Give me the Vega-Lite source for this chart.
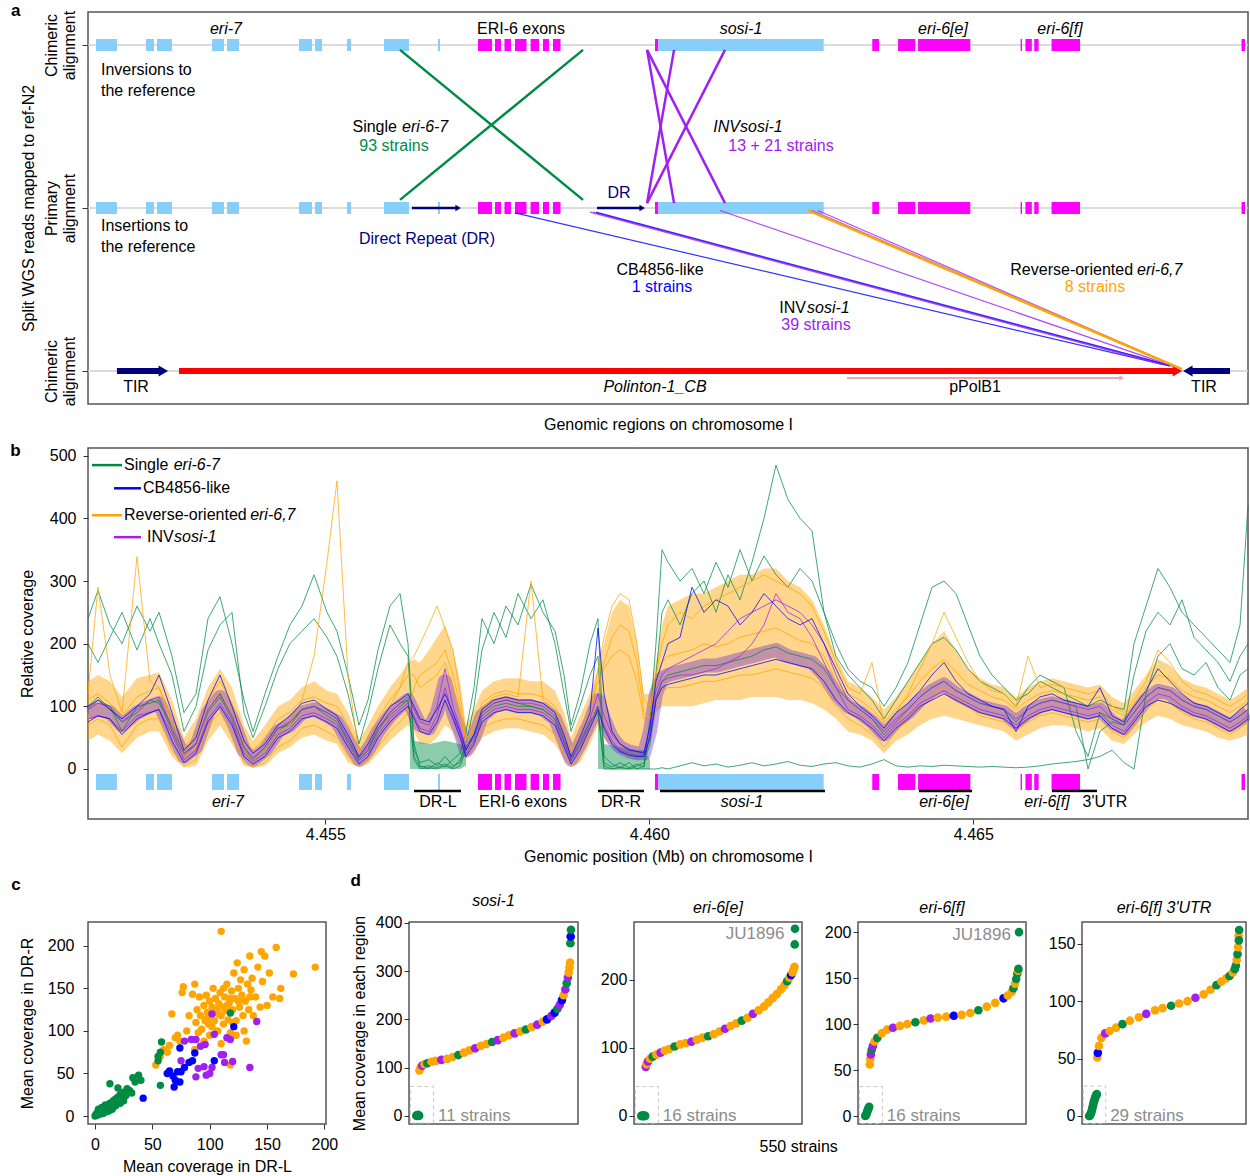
{
"$schema":"https://vega.github.io/schema/vega-lite/v6.json",
"background":"white",
"padding":{"left":9,"top":1,"right":0,"bottom":0},
"spacing":7,
"config":{"font":"Liberation Sans","view":{"stroke":"#555555","strokeWidth":1.5},
"axis":{"labelFontSize":16,"titleFontSize":16,"titleFontWeight":"normal","labelColor":"#000","titleColor":"#000","tickColor":"#333","domain":false,"grid":false,"tickSize":5,"labelFlush":false},
"title":{"fontSize":16,"fontWeight":"normal","color":"#000"}},
"datasets":{
"genes":[{"s":4451.461,"e":4451.785,"c":"e7"},{"s":4452.233,"e":4452.356,"c":"e7"},{"s":4452.403,"e":4452.634,"c":"e7"},{"s":4453.251,"e":4453.437,"c":"e7"},{"s":4453.483,"e":4453.668,"c":"e7"},{"s":4454.594,"e":4454.795,"c":"e7"},{"s":4454.841,"e":4454.949,"c":"e7"},{"s":4455.335,"e":4455.397,"c":"e7"},{"s":4455.906,"e":4456.292,"c":"e7"},{"s":4456.739,"e":4456.77,"c":"e7"},{"s":4460.134,"e":4462.691,"c":"e7"},
{"s":4457.356,"e":4457.572,"c":"e6"},{"s":4457.619,"e":4457.711,"c":"e6"},{"s":4457.765,"e":4457.866,"c":"e6"},{"s":4457.927,"e":4458.105,"c":"e6"},{"s":4458.168,"e":4458.298,"c":"e6"},{"s":4458.359,"e":4458.452,"c":"e6"},{"s":4458.514,"e":4458.63,"c":"e6"},{"s":4460.088,"e":4460.134,"c":"e6"},{"s":4463.441,"e":4463.546,"c":"e6"},{"s":4463.838,"e":4464.105,"c":"e6"},{"s":4464.147,"e":4464.954,"c":"e6"},{"s":4465.73,"e":4465.751,"c":"e6"},{"s":4465.804,"e":4465.903,"c":"e6"},{"s":4465.94,"e":4466.008,"c":"e6"},{"s":4466.207,"e":4466.647,"c":"e6"},{"s":4469.139,"e":4469.193,"c":"e6"}],
"series":[{"key":"ga","grp":"g"},{"key":"gb","grp":"g"},{"key":"gc","grp":"g"},{"key":"gd","grp":"g"},{"key":"oa","grp":"o"},{"key":"ob","grp":"o"},{"key":"oc","grp":"o"},{"key":"pa","grp":"p"},{"key":"pb","grp":"p"},{"key":"qa","grp":"b"},{"key":"qb","grp":"b"}],
"gband":[{"x":4456.307,"lo":0,"hi":90,"s":"L"},{"x":4456.369,"lo":0,"hi":45,"s":"L"},{"x":4456.6,"lo":0,"hi":40,"s":"L"},{"x":4456.847,"lo":0,"hi":45,"s":"L"},{"x":4457.079,"lo":0,"hi":40,"s":"L"},{"x":4457.171,"lo":5,"hi":35,"s":"L"},
{"x":4459.208,"lo":0,"hi":90,"s":"R"},{"x":4459.301,"lo":0,"hi":40,"s":"R"},{"x":4459.548,"lo":0,"hi":35,"s":"R"},{"x":4459.81,"lo":0,"hi":30,"s":"R"},{"x":4459.918,"lo":0,"hi":30,"s":"R"},{"x":4460.011,"lo":0,"hi":15,"s":"R"}],
"cov":[
{"x":4451.338,"M":90,"lo":45,"hi":140,"ga":95,"gb":240,"gc":200,"gd":100,"oa":70,"ob":120,"oc":110,"pa":95,"pb":80,"qa":100,"qb":75},
{"x":4451.492,"M":95,"lo":55,"hi":150,"ga":110,"gb":285,"gc":170,"gd":115,"oa":80,"ob":290,"oc":120,"pa":105,"pb":85,"qa":110,"qb":85},
{"x":4451.677,"M":90,"lo":45,"hi":140,"ga":100,"gb":230,"gc":210,"gd":95,"oa":70,"ob":150,"oc":105,"pa":100,"pb":80,"qa":95,"qb":80},
{"x":4451.863,"M":70,"lo":25,"hi":115,"ga":60,"gb":200,"gc":250,"gd":75,"oa":35,"ob":90,"oc":85,"pa":75,"pb":60,"qa":80,"qb":55},
{"x":4452.094,"M":90,"lo":50,"hi":145,"ga":100,"gb":260,"gc":190,"gd":90,"oa":70,"ob":339,"oc":115,"pa":95,"pb":85,"qa":100,"qb":80},
{"x":4452.295,"M":100,"lo":60,"hi":150,"ga":105,"gb":220,"gc":240,"gd":110,"oa":80,"ob":140,"oc":125,"pa":110,"pb":90,"qa":120,"qb":90},
{"x":4452.434,"M":105,"lo":60,"hi":155,"ga":110,"gb":250,"gc":200,"gd":105,"oa":80,"ob":130,"oc":130,"pa":115,"pb":95,"qa":150,"qb":95},
{"x":4452.634,"M":60,"lo":20,"hi":110,"ga":60,"gb":180,"gc":150,"gd":70,"oa":30,"ob":70,"oc":80,"pa":65,"pb":55,"qa":90,"qb":45},
{"x":4452.819,"M":20,"lo":2,"hi":50,"ga":20,"gb":90,"gc":60,"gd":25,"oa":5,"ob":20,"oc":35,"pa":25,"pb":15,"qa":30,"qb":10},
{"x":4453.005,"M":35,"lo":5,"hi":80,"ga":40,"gb":120,"gc":100,"gd":40,"oa":15,"ob":35,"oc":55,"pa":40,"pb":30,"qa":50,"qb":25},
{"x":4453.19,"M":90,"lo":45,"hi":130,"ga":95,"gb":240,"gc":190,"gd":90,"oa":70,"ob":95,"oc":110,"pa":95,"pb":80,"qa":110,"qb":75},
{"x":4453.375,"M":115,"lo":70,"hi":160,"ga":120,"gb":275,"gc":230,"gd":115,"oa":90,"ob":125,"oc":140,"pa":120,"pb":105,"qa":150,"qb":100},
{"x":4453.56,"M":80,"lo":40,"hi":130,"ga":85,"gb":200,"gc":250,"gd":80,"oa":55,"ob":85,"oc":105,"pa":85,"pb":75,"qa":100,"qb":70},
{"x":4453.745,"M":30,"lo":5,"hi":70,"ga":35,"gb":110,"gc":90,"gd":30,"oa":10,"ob":30,"oc":50,"pa":35,"pb":25,"qa":45,"qb":20},
{"x":4453.884,"M":15,"lo":2,"hi":45,"ga":15,"gb":60,"gc":50,"gd":15,"oa":3,"ob":15,"oc":30,"pa":18,"pb":12,"qa":25,"qb":8},
{"x":4454.069,"M":30,"lo":5,"hi":70,"ga":30,"gb":120,"gc":100,"gd":35,"oa":10,"ob":30,"oc":50,"pa":35,"pb":25,"qa":40,"qb":20},
{"x":4454.27,"M":60,"lo":25,"hi":100,"ga":60,"gb":180,"gc":160,"gd":65,"oa":35,"ob":60,"oc":80,"pa":65,"pb":55,"qa":70,"qb":50},
{"x":4454.455,"M":70,"lo":35,"hi":110,"ga":75,"gb":230,"gc":200,"gd":70,"oa":45,"ob":70,"oc":90,"pa":75,"pb":65,"qa":85,"qb":60},
{"x":4454.64,"M":90,"lo":50,"hi":130,"ga":95,"gb":260,"gc":220,"gd":95,"oa":65,"ob":110,"oc":110,"pa":95,"pb":85,"qa":105,"qb":80},
{"x":4454.826,"M":95,"lo":55,"hi":140,"ga":100,"gb":310,"gc":240,"gd":100,"oa":70,"ob":180,"oc":115,"pa":100,"pb":90,"qa":110,"qb":85},
{"x":4455.026,"M":85,"lo":45,"hi":125,"ga":90,"gb":250,"gc":210,"gd":85,"oa":60,"ob":330,"oc":105,"pa":90,"pb":80,"qa":95,"qb":75},
{"x":4455.18,"M":75,"lo":40,"hi":120,"ga":80,"gb":220,"gc":180,"gd":75,"oa":50,"ob":460,"oc":100,"pa":80,"pb":70,"qa":85,"qb":65},
{"x":4455.35,"M":45,"lo":10,"hi":90,"ga":45,"gb":150,"gc":120,"gd":45,"oa":20,"ob":150,"oc":70,"pa":50,"pb":40,"qa":55,"qb":35},
{"x":4455.52,"M":15,"lo":3,"hi":45,"ga":15,"gb":70,"gc":40,"gd":15,"oa":4,"ob":25,"oc":30,"pa":18,"pb":12,"qa":20,"qb":8},
{"x":4455.659,"M":30,"lo":8,"hi":70,"ga":30,"gb":110,"gc":90,"gd":30,"oa":12,"ob":40,"oc":50,"pa":35,"pb":25,"qa":40,"qb":20},
{"x":4455.813,"M":60,"lo":25,"hi":100,"ga":60,"gb":190,"gc":160,"gd":65,"oa":35,"ob":70,"oc":80,"pa":65,"pb":55,"qa":70,"qb":50},
{"x":4455.998,"M":85,"lo":45,"hi":130,"ga":90,"gb":260,"gc":230,"gd":85,"oa":60,"ob":100,"oc":110,"pa":90,"pb":80,"qa":100,"qb":75},
{"x":4456.153,"M":100,"lo":60,"hi":150,"ga":105,"gb":280,"gc":200,"gd":100,"oa":75,"ob":130,"oc":130,"pa":105,"pb":95,"qa":110,"qb":90},
{"x":4456.276,"M":110,"lo":70,"hi":170,"ga":110,"gb":200,"gc":180,"gd":110,"oa":90,"ob":170,"oc":150,"pa":115,"pb":105,"qa":120,"qb":100},
{"x":4456.369,"M":90,"lo":60,"hi":175,"ga":20,"gb":40,"gc":30,"gd":15,"oa":130,"ob":180,"oc":150,"pa":95,"pb":85,"qa":100,"qb":80},
{"x":4456.461,"M":70,"lo":40,"hi":170,"ga":3,"gb":5,"gc":10,"gd":0,"oa":150,"ob":200,"oc":130,"pa":75,"pb":65,"qa":80,"qb":60},
{"x":4456.6,"M":65,"lo":40,"hi":190,"ga":5,"gb":0,"gc":15,"gd":2,"oa":160,"ob":230,"oc":140,"pa":70,"pb":60,"qa":75,"qb":55},
{"x":4456.724,"M":90,"lo":50,"hi":210,"ga":2,"gb":10,"gc":5,"gd":0,"oa":170,"ob":260,"oc":150,"pa":100,"pb":85,"qa":95,"qb":75},
{"x":4456.847,"M":140,"lo":70,"hi":230,"ga":8,"gb":3,"gc":20,"gd":5,"oa":190,"ob":225,"oc":170,"pa":160,"pb":130,"qa":120,"qb":110},
{"x":4456.971,"M":90,"lo":60,"hi":190,"ga":2,"gb":15,"gc":5,"gd":0,"oa":150,"ob":190,"oc":130,"pa":100,"pb":85,"qa":90,"qb":80},
{"x":4457.079,"M":60,"lo":35,"hi":140,"ga":15,"gb":25,"gc":10,"gd":5,"oa":100,"ob":120,"oc":90,"pa":65,"pb":55,"qa":60,"qb":50},
{"x":4457.171,"M":30,"lo":15,"hi":70,"ga":35,"gb":60,"gc":40,"gd":30,"oa":40,"ob":50,"oc":45,"pa":35,"pb":25,"qa":30,"qb":20},
{"x":4457.295,"M":50,"lo":25,"hi":95,"ga":55,"gb":130,"gc":100,"gd":50,"oa":40,"ob":60,"oc":70,"pa":55,"pb":45,"qa":55,"qb":40},
{"x":4457.418,"M":85,"lo":50,"hi":125,"ga":90,"gb":240,"gc":190,"gd":85,"oa":65,"ob":95,"oc":105,"pa":90,"pb":80,"qa":95,"qb":75},
{"x":4457.603,"M":100,"lo":60,"hi":140,"ga":105,"gb":200,"gc":250,"gd":100,"oa":75,"ob":115,"oc":120,"pa":105,"pb":95,"qa":110,"qb":90},
{"x":4457.788,"M":105,"lo":65,"hi":145,"ga":110,"gb":260,"gc":210,"gd":105,"oa":80,"ob":120,"oc":125,"pa":110,"pb":100,"qa":115,"qb":95},
{"x":4457.974,"M":100,"lo":65,"hi":145,"ga":105,"gb":230,"gc":280,"gd":100,"oa":80,"ob":115,"oc":120,"pa":105,"pb":95,"qa":110,"qb":90},
{"x":4458.174,"M":100,"lo":60,"hi":140,"ga":100,"gb":295,"gc":240,"gd":100,"oa":75,"ob":300,"oc":120,"pa":105,"pb":95,"qa":110,"qb":90},
{"x":4458.359,"M":95,"lo":55,"hi":140,"ga":95,"gb":250,"gc":270,"gd":95,"oa":70,"ob":110,"oc":115,"pa":100,"pb":90,"qa":105,"qb":85},
{"x":4458.545,"M":80,"lo":40,"hi":125,"ga":80,"gb":220,"gc":200,"gd":80,"oa":55,"ob":95,"oc":100,"pa":85,"pb":75,"qa":90,"qb":70},
{"x":4458.684,"M":45,"lo":15,"hi":90,"ga":45,"gb":150,"gc":120,"gd":45,"oa":25,"ob":55,"oc":65,"pa":50,"pb":40,"qa":55,"qb":35},
{"x":4458.792,"M":15,"lo":3,"hi":50,"ga":15,"gb":70,"gc":60,"gd":15,"oa":4,"ob":20,"oc":30,"pa":18,"pb":12,"qa":20,"qb":8},
{"x":4458.93,"M":40,"lo":10,"hi":85,"ga":40,"gb":120,"gc":100,"gd":40,"oa":20,"ob":50,"oc":60,"pa":45,"pb":35,"qa":50,"qb":30},
{"x":4459.085,"M":75,"lo":40,"hi":120,"ga":75,"gb":200,"gc":150,"gd":75,"oa":60,"ob":90,"oc":95,"pa":80,"pb":70,"qa":90,"qb":65},
{"x":4459.208,"M":110,"lo":70,"hi":160,"ga":90,"gb":240,"gc":180,"gd":100,"oa":120,"ob":160,"oc":140,"pa":120,"pb":100,"qa":225,"qb":95},
{"x":4459.301,"M":80,"lo":50,"hi":200,"ga":5,"gb":20,"gc":10,"gd":0,"oa":170,"ob":210,"oc":160,"pa":85,"pb":70,"qa":120,"qb":65},
{"x":4459.424,"M":50,"lo":35,"hi":250,"ga":0,"gb":8,"gc":3,"gd":0,"oa":210,"ob":260,"oc":180,"pa":55,"pb":45,"qa":60,"qb":40},
{"x":4459.548,"M":35,"lo":25,"hi":270,"ga":3,"gb":2,"gc":10,"gd":0,"oa":230,"ob":280,"oc":190,"pa":40,"pb":30,"qa":40,"qb":28},
{"x":4459.687,"M":28,"lo":20,"hi":260,"ga":0,"gb":10,"gc":2,"gd":0,"oa":220,"ob":270,"oc":180,"pa":32,"pb":25,"qa":30,"qb":22},
{"x":4459.81,"M":25,"lo":15,"hi":200,"ga":5,"gb":0,"gc":8,"gd":0,"oa":170,"ob":200,"oc":140,"pa":28,"pb":22,"qa":28,"qb":20},
{"x":4459.918,"M":25,"lo":15,"hi":120,"ga":10,"gb":5,"gc":3,"gd":0,"oa":90,"ob":110,"oc":80,"pa":28,"pb":22,"qa":25,"qb":20},
{"x":4460.011,"M":60,"lo":40,"hi":120,"ga":40,"gb":80,"gc":60,"gd":0,"oa":80,"ob":100,"oc":90,"pa":65,"pb":55,"qa":70,"qb":50},
{"x":4460.103,"M":120,"lo":90,"hi":170,"ga":110,"gb":200,"gc":150,"gd":0,"oa":110,"ob":150,"oc":140,"pa":125,"pb":115,"qa":140,"qb":110},
{"x":4460.196,"M":145,"lo":100,"hi":230,"ga":140,"gb":350,"gc":250,"gd":2,"oa":125,"ob":200,"oc":170,"pa":150,"pb":140,"qa":170,"qb":130},
{"x":4460.288,"M":150,"lo":100,"hi":260,"ga":150,"gb":330,"gc":270,"gd":0,"oa":130,"ob":230,"oc":180,"pa":160,"pb":145,"qa":200,"qb":135},
{"x":4460.474,"M":155,"lo":100,"hi":270,"ga":155,"gb":300,"gc":230,"gd":5,"oa":130,"ob":250,"oc":185,"pa":170,"pb":150,"qa":210,"qb":140},
{"x":4460.659,"M":160,"lo":100,"hi":280,"ga":160,"gb":320,"gc":280,"gd":10,"oa":135,"ob":240,"oc":190,"pa":180,"pb":150,"qa":290,"qb":145},
{"x":4460.844,"M":165,"lo":105,"hi":280,"ga":165,"gb":280,"gc":300,"gd":5,"oa":140,"ob":260,"oc":200,"pa":190,"pb":155,"qa":250,"qb":150},
{"x":4461.029,"M":165,"lo":110,"hi":290,"ga":165,"gb":330,"gc":250,"gd":8,"oa":140,"ob":270,"oc":195,"pa":200,"pb":160,"qa":270,"qb":150},
{"x":4461.214,"M":170,"lo":110,"hi":300,"ga":170,"gb":290,"gc":310,"gd":3,"oa":145,"ob":280,"oc":200,"pa":220,"pb":170,"qa":260,"qb":155},
{"x":4461.4,"M":175,"lo":110,"hi":310,"ga":175,"gb":350,"gc":270,"gd":6,"oa":150,"ob":290,"oc":210,"pa":240,"pb":180,"qa":230,"qb":160},
{"x":4461.585,"M":180,"lo":115,"hi":310,"ga":180,"gb":300,"gc":330,"gd":10,"oa":150,"ob":300,"oc":215,"pa":250,"pb":200,"qa":250,"qb":165},
{"x":4461.77,"M":185,"lo":115,"hi":320,"ga":190,"gb":340,"gc":400,"gd":5,"oa":155,"ob":310,"oc":220,"pa":260,"pb":230,"qa":280,"qb":170},
{"x":4461.955,"M":190,"lo":115,"hi":320,"ga":195,"gb":310,"gc":485,"gd":8,"oa":160,"ob":300,"oc":225,"pa":270,"pb":280,"qa":260,"qb":175},
{"x":4462.14,"M":180,"lo":110,"hi":300,"ga":185,"gb":290,"gc":430,"gd":12,"oa":155,"ob":290,"oc":215,"pa":260,"pb":250,"qa":240,"qb":170},
{"x":4462.326,"M":175,"lo":110,"hi":290,"ga":180,"gb":320,"gc":400,"gd":6,"oa":150,"ob":280,"oc":205,"pa":250,"pb":240,"qa":230,"qb":165},
{"x":4462.511,"M":170,"lo":105,"hi":270,"ga":175,"gb":300,"gc":380,"gd":4,"oa":145,"ob":260,"oc":200,"pa":230,"pb":210,"qa":240,"qb":160},
{"x":4462.696,"M":150,"lo":95,"hi":230,"ga":160,"gb":250,"gc":250,"gd":8,"oa":130,"ob":220,"oc":180,"pa":200,"pb":170,"qa":200,"qb":140},
{"x":4462.881,"M":120,"lo":80,"hi":180,"ga":130,"gb":200,"gc":180,"gd":10,"oa":100,"ob":170,"oc":140,"pa":150,"pb":130,"qa":160,"qb":110},
{"x":4463.066,"M":100,"lo":60,"hi":140,"ga":110,"gb":160,"gc":150,"gd":5,"oa":80,"ob":130,"oc":120,"pa":110,"pb":95,"qa":120,"qb":90},
{"x":4463.251,"M":90,"lo":55,"hi":130,"ga":95,"gb":140,"gc":130,"gd":3,"oa":70,"ob":120,"oc":110,"pa":95,"pb":85,"qa":100,"qb":80},
{"x":4463.437,"M":75,"lo":45,"hi":115,"ga":80,"gb":130,"gc":110,"gd":8,"oa":55,"ob":170,"oc":95,"pa":80,"pb":70,"qa":85,"qb":65},
{"x":4463.622,"M":55,"lo":25,"hi":95,"ga":55,"gb":100,"gc":80,"gd":15,"oa":35,"ob":70,"oc":75,"pa":60,"pb":50,"qa":65,"qb":45},
{"x":4463.807,"M":75,"lo":45,"hi":115,"ga":75,"gb":130,"gc":110,"gd":5,"oa":60,"ob":90,"oc":95,"pa":80,"pb":70,"qa":90,"qb":65},
{"x":4463.992,"M":90,"lo":55,"hi":140,"ga":95,"gb":170,"gc":140,"gd":3,"oa":80,"ob":120,"oc":115,"pa":95,"pb":85,"qa":105,"qb":80},
{"x":4464.177,"M":110,"lo":70,"hi":170,"ga":115,"gb":230,"gc":170,"gd":5,"oa":100,"ob":160,"oc":140,"pa":115,"pb":105,"qa":125,"qb":100},
{"x":4464.363,"M":125,"lo":80,"hi":200,"ga":130,"gb":290,"gc":200,"gd":4,"oa":120,"ob":200,"oc":160,"pa":130,"pb":115,"qa":150,"qb":110},
{"x":4464.548,"M":135,"lo":85,"hi":220,"ga":140,"gb":300,"gc":210,"gd":6,"oa":130,"ob":250,"oc":175,"pa":140,"pb":125,"qa":170,"qb":120},
{"x":4464.733,"M":120,"lo":80,"hi":190,"ga":125,"gb":280,"gc":190,"gd":5,"oa":115,"ob":210,"oc":155,"pa":125,"pb":115,"qa":140,"qb":110},
{"x":4464.918,"M":110,"lo":75,"hi":160,"ga":115,"gb":230,"gc":160,"gd":4,"oa":100,"ob":170,"oc":135,"pa":115,"pb":105,"qa":120,"qb":100},
{"x":4465.103,"M":100,"lo":70,"hi":145,"ga":105,"gb":180,"gc":140,"gd":3,"oa":85,"ob":140,"oc":125,"pa":105,"pb":95,"qa":110,"qb":90},
{"x":4465.288,"M":95,"lo":65,"hi":135,"ga":100,"gb":150,"gc":130,"gd":4,"oa":80,"ob":125,"oc":115,"pa":100,"pb":90,"qa":100,"qb":85},
{"x":4465.474,"M":90,"lo":60,"hi":130,"ga":95,"gb":130,"gc":120,"gd":3,"oa":75,"ob":120,"oc":110,"pa":95,"pb":85,"qa":95,"qb":80},
{"x":4465.659,"M":75,"lo":45,"hi":115,"ga":75,"gb":110,"gc":100,"gd":2,"oa":60,"ob":100,"oc":95,"pa":80,"pb":70,"qa":60,"qb":65},
{"x":4465.844,"M":90,"lo":55,"hi":130,"ga":95,"gb":120,"gc":130,"gd":3,"oa":75,"ob":180,"oc":110,"pa":95,"pb":85,"qa":100,"qb":80},
{"x":4466.029,"M":100,"lo":65,"hi":140,"ga":105,"gb":140,"gc":150,"gd":5,"oa":85,"ob":130,"oc":120,"pa":105,"pb":95,"qa":115,"qb":90},
{"x":4466.214,"M":105,"lo":70,"hi":145,"ga":110,"gb":130,"gc":140,"gd":8,"oa":90,"ob":135,"oc":125,"pa":110,"pb":100,"qa":120,"qb":95},
{"x":4466.4,"M":100,"lo":70,"hi":140,"ga":105,"gb":120,"gc":130,"gd":10,"oa":85,"ob":130,"oc":120,"pa":105,"pb":95,"qa":110,"qb":90},
{"x":4466.585,"M":95,"lo":65,"hi":135,"ga":100,"gb":110,"gc":60,"gd":12,"oa":80,"ob":125,"oc":115,"pa":100,"pb":90,"qa":105,"qb":85},
{"x":4466.77,"M":90,"lo":60,"hi":130,"ga":0,"gb":100,"gc":20,"gd":15,"oa":75,"ob":120,"oc":110,"pa":95,"pb":85,"qa":100,"qb":80},
{"x":4466.955,"M":95,"lo":65,"hi":135,"ga":60,"gb":110,"gc":90,"gd":20,"oa":80,"ob":125,"oc":115,"pa":100,"pb":90,"qa":130,"qb":85},
{"x":4467.14,"M":75,"lo":45,"hi":115,"ga":75,"gb":100,"gc":80,"gd":30,"oa":60,"ob":100,"oc":95,"pa":80,"pb":70,"qa":85,"qb":65},
{"x":4467.326,"M":65,"lo":40,"hi":105,"ga":70,"gb":95,"gc":70,"gd":10,"oa":50,"ob":90,"oc":85,"pa":70,"pb":60,"qa":75,"qb":55},
{"x":4467.48,"M":85,"lo":55,"hi":125,"ga":90,"gb":200,"gc":150,"gd":0,"oa":70,"ob":110,"oc":105,"pa":90,"pb":80,"qa":100,"qb":75},
{"x":4467.665,"M":110,"lo":75,"hi":150,"ga":115,"gb":260,"gc":220,"gd":120,"oa":95,"ob":140,"oc":130,"pa":115,"pb":105,"qa":125,"qb":100},
{"x":4467.85,"M":125,"lo":85,"hi":175,"ga":130,"gb":320,"gc":250,"gd":180,"oa":110,"ob":190,"oc":150,"pa":130,"pb":120,"qa":160,"qb":110},
{"x":4468.035,"M":120,"lo":80,"hi":165,"ga":125,"gb":290,"gc":230,"gd":200,"oa":105,"ob":170,"oc":145,"pa":125,"pb":115,"qa":140,"qb":105},
{"x":4468.221,"M":105,"lo":70,"hi":145,"ga":110,"gb":250,"gc":270,"gd":160,"oa":90,"ob":140,"oc":125,"pa":110,"pb":100,"qa":120,"qb":95},
{"x":4468.406,"M":95,"lo":65,"hi":135,"ga":100,"gb":230,"gc":210,"gd":150,"oa":80,"ob":125,"oc":115,"pa":100,"pb":90,"qa":105,"qb":85},
{"x":4468.591,"M":90,"lo":60,"hi":130,"ga":95,"gb":210,"gc":190,"gd":170,"oa":75,"ob":120,"oc":110,"pa":95,"pb":85,"qa":100,"qb":80},
{"x":4468.776,"M":80,"lo":50,"hi":120,"ga":85,"gb":190,"gc":170,"gd":130,"oa":65,"ob":110,"oc":100,"pa":85,"pb":75,"qa":90,"qb":70},
{"x":4468.961,"M":70,"lo":45,"hi":110,"ga":75,"gb":170,"gc":140,"gd":110,"oa":55,"ob":100,"oc":90,"pa":75,"pb":65,"qa":80,"qb":60},
{"x":4469.116,"M":80,"lo":50,"hi":120,"ga":85,"gb":230,"gc":180,"gd":150,"oa":65,"ob":110,"oc":100,"pa":85,"pb":75,"qa":95,"qb":70},
{"x":4469.239,"M":90,"lo":55,"hi":130,"ga":95,"gb":420,"gc":200,"gd":160,"oa":75,"ob":120,"oc":110,"pa":95,"pb":85,"qa":105,"qb":80}],
"scat":[
{"x":53,"y":60,"c":"o"},{"x":57,"y":70,"c":"o"},{"x":60,"y":78,"c":"o"},{"x":63,"y":75,"c":"o"},{"x":65,"y":83,"c":"o"},{"x":67,"y":120,"c":"o"},{"x":70,"y":92,"c":"o"},{"x":72,"y":95,"c":"o"},{"x":74,"y":88,"c":"o"},{"x":76,"y":145,"c":"o"},{"x":77,"y":152,"c":"o"},{"x":80,"y":100,"c":"o"},{"x":82,"y":118,"c":"o"},{"x":85,"y":143,"c":"o"},{"x":87,"y":155,"c":"o"},{"x":88,"y":110,"c":"o"},{"x":89,"y":125,"c":"o"},{"x":90,"y":98,"c":"o"},{"x":91,"y":140,"c":"o"},{"x":92,"y":118,"c":"o"},{"x":93,"y":102,"c":"o"},{"x":95,"y":130,"c":"o"},{"x":96,"y":112,"c":"o"},{"x":97,"y":142,"c":"o"},{"x":98,"y":122,"c":"o"},{"x":99,"y":108,"c":"o"},{"x":100,"y":135,"c":"o"},{"x":100,"y":95,"c":"o"},{"x":101,"y":118,"c":"o"},{"x":102,"y":128,"c":"o"},{"x":103,"y":150,"c":"o"},{"x":104,"y":112,"c":"o"},{"x":105,"y":138,"c":"o"},{"x":106,"y":122,"c":"o"},{"x":107,"y":100,"c":"o"},{"x":108,"y":132,"c":"o"},{"x":109,"y":145,"c":"o"},{"x":110,"y":118,"c":"o"},{"x":110,"y":217,"c":"o"},{"x":111,"y":128,"c":"o"},{"x":112,"y":108,"c":"o"},{"x":113,"y":140,"c":"o"},{"x":114,"y":124,"c":"o"},{"x":115,"y":155,"c":"o"},{"x":116,"y":113,"c":"o"},{"x":117,"y":133,"c":"o"},{"x":118,"y":98,"c":"o"},{"x":118,"y":60,"c":"o"},{"x":119,"y":147,"c":"o"},{"x":120,"y":125,"c":"o"},{"x":121,"y":168,"c":"o"},{"x":122,"y":138,"c":"o"},{"x":123,"y":112,"c":"o"},{"x":124,"y":180,"c":"o"},{"x":125,"y":150,"c":"o"},{"x":126,"y":128,"c":"o"},{"x":127,"y":160,"c":"o"},{"x":128,"y":142,"c":"o"},{"x":129,"y":118,"c":"o"},{"x":130,"y":172,"c":"o"},{"x":131,"y":135,"c":"o"},{"x":132,"y":88,"c":"o"},{"x":133,"y":155,"c":"o"},{"x":134,"y":125,"c":"o"},{"x":135,"y":188,"c":"o"},{"x":136,"y":148,"c":"o"},{"x":137,"y":162,"c":"o"},{"x":138,"y":118,"c":"o"},{"x":140,"y":140,"c":"o"},{"x":142,"y":175,"c":"o"},{"x":144,"y":128,"c":"o"},{"x":145,"y":193,"c":"o"},{"x":146,"y":158,"c":"o"},{"x":148,"y":188,"c":"o"},{"x":150,"y":130,"c":"o"},{"x":152,"y":168,"c":"o"},{"x":155,"y":140,"c":"o"},{"x":158,"y":198,"c":"o"},{"x":161,"y":138,"c":"o"},{"x":162,"y":150,"c":"o"},{"x":173,"y":167,"c":"o"},{"x":192,"y":175,"c":"o"},{"x":87,"y":78,"c":"o"},{"x":95,"y":88,"c":"o"},{"x":110,"y":85,"c":"o"},{"x":123,"y":95,"c":"o"},{"x":130,"y":100,"c":"o"},{"x":105,"y":125,"c":"o"},{"x":115,"y":130,"c":"o"},{"x":120,"y":110,"c":"o"},{"x":98,"y":115,"c":"o"},{"x":108,"y":120,"c":"o"},{"x":125,"y":135,"c":"o"},{"x":135,"y":140,"c":"o"},{"x":112,"y":150,"c":"o"},{"x":118,"y":138,"c":"o"},{"x":102,"y":105,"c":"o"},
{"x":75,"y":65,"c":"p"},{"x":78,"y":88,"c":"p"},{"x":88,"y":90,"c":"p"},{"x":90,"y":56,"c":"p"},{"x":88,"y":46,"c":"p"},{"x":95,"y":58,"c":"p"},{"x":97,"y":48,"c":"p"},{"x":100,"y":50,"c":"p"},{"x":102,"y":57,"c":"p"},{"x":104,"y":96,"c":"p"},{"x":110,"y":72,"c":"p"},{"x":112,"y":72,"c":"p"},{"x":115,"y":92,"c":"p"},{"x":113,"y":63,"c":"p"},{"x":118,"y":90,"c":"p"},{"x":120,"y":64,"c":"p"},{"x":135,"y":57,"c":"p"},{"x":141,"y":111,"c":"p"},{"x":96,"y":84,"c":"p"},{"x":102,"y":120,"c":"p"},{"x":84,"y":90,"c":"p"},{"x":92,"y":82,"c":"p"},
{"x":63,"y":50,"c":"b"},{"x":65,"y":53,"c":"b"},{"x":68,"y":47,"c":"b"},{"x":70,"y":42,"c":"b"},{"x":72,"y":52,"c":"b"},{"x":75,"y":52,"c":"b"},{"x":74,"y":40,"c":"b"},{"x":69,"y":34,"c":"b"},{"x":78,"y":57,"c":"b"},{"x":82,"y":63,"c":"b"},{"x":87,"y":74,"c":"b"},{"x":85,"y":65,"c":"b"},{"x":104,"y":65,"c":"b"},{"x":121,"y":105,"c":"b"},{"x":74,"y":80,"c":"b"},{"x":42,"y":21,"c":"b"},
{"x":0,"y":0,"c":"g"},{"x":1,"y":2,"c":"g"},{"x":2,"y":1,"c":"g"},{"x":3,"y":3,"c":"g"},{"x":2,"y":4,"c":"g"},{"x":4,"y":2,"c":"g"},{"x":5,"y":5,"c":"g"},{"x":6,"y":4,"c":"g"},{"x":4,"y":7,"c":"g"},{"x":7,"y":6,"c":"g"},{"x":8,"y":8,"c":"g"},{"x":9,"y":7,"c":"g"},{"x":10,"y":10,"c":"g"},{"x":11,"y":9,"c":"g"},{"x":12,"y":12,"c":"g"},{"x":13,"y":15,"c":"g"},{"x":14,"y":11,"c":"g"},{"x":15,"y":14,"c":"g"},{"x":16,"y":18,"c":"g"},{"x":17,"y":16,"c":"g"},{"x":18,"y":20,"c":"g"},{"x":19,"y":17,"c":"g"},{"x":20,"y":22,"c":"g"},{"x":21,"y":19,"c":"g"},{"x":22,"y":25,"c":"g"},{"x":24,"y":21,"c":"g"},{"x":25,"y":28,"c":"g"},{"x":27,"y":24,"c":"g"},{"x":30,"y":30,"c":"g"},{"x":32,"y":27,"c":"g"},{"x":33,"y":45,"c":"g"},{"x":35,"y":40,"c":"g"},{"x":38,"y":48,"c":"g"},{"x":40,"y":42,"c":"g"},{"x":13,"y":38,"c":"g"},{"x":20,"y":33,"c":"g"},{"x":55,"y":65,"c":"g"},{"x":58,"y":87,"c":"g"},{"x":57,"y":75,"c":"g"},{"x":55,"y":70,"c":"g"},{"x":57,"y":36,"c":"g"},{"x":118,"y":121,"c":"g"},{"x":7,"y":3,"c":"g"},{"x":10,"y":5,"c":"g"},{"x":3,"y":8,"c":"g"},{"x":15,"y":8,"c":"g"},{"x":18,"y":12,"c":"g"},{"x":25,"y":18,"c":"g"},{"x":28,"y":32,"c":"g"},{"x":6,"y":10,"c":"g"},{"x":9,"y":13,"c":"g"},{"x":12,"y":6,"c":"g"},{"x":16,"y":11,"c":"g"},{"x":22,"y":15,"c":"g"}],
"sorted":[
{"p":"s","r":1,"v":0,"c":"g"},{"p":"s","r":3,"v":1,"c":"g"},{"p":"s","r":5,"v":0,"c":"g"},{"p":"s","r":7,"v":2,"c":"g"},{"p":"s","r":9,"v":1,"c":"g"},{"p":"s","r":11,"v":0,"c":"g"},
{"p":"s","r":12,"v":94,"c":"o"},{"p":"s","r":16,"v":100,"c":"o"},{"p":"s","r":22,"v":104,"c":"p"},{"p":"s","r":30,"v":107,"c":"o"},{"p":"s","r":40,"v":109,"c":"g"},{"p":"s","r":55,"v":112,"c":"o"},{"p":"s","r":70,"v":114,"c":"o"},{"p":"s","r":90,"v":116,"c":"p"},{"p":"s","r":110,"v":118,"c":"o"},{"p":"s","r":130,"v":122,"c":"o"},{"p":"s","r":150,"v":126,"c":"g"},{"p":"s","r":170,"v":131,"c":"o"},{"p":"s","r":190,"v":136,"c":"o"},{"p":"s","r":210,"v":140,"c":"p"},{"p":"s","r":230,"v":145,"c":"o"},{"p":"s","r":250,"v":149,"c":"o"},{"p":"s","r":270,"v":153,"c":"g"},{"p":"s","r":290,"v":157,"c":"p"},{"p":"s","r":310,"v":162,"c":"o"},{"p":"s","r":330,"v":167,"c":"o"},{"p":"s","r":350,"v":171,"c":"p"},{"p":"s","r":370,"v":175,"c":"o"},{"p":"s","r":390,"v":179,"c":"g"},{"p":"s","r":410,"v":184,"c":"o"},{"p":"s","r":430,"v":189,"c":"p"},{"p":"s","r":450,"v":195,"c":"o"},{"p":"s","r":465,"v":200,"c":"b"},{"p":"s","r":480,"v":207,"c":"p"},{"p":"s","r":492,"v":214,"c":"b"},{"p":"s","r":502,"v":222,"c":"g"},{"p":"s","r":510,"v":230,"c":"p"},{"p":"s","r":518,"v":240,"c":"b"},{"p":"s","r":524,"v":250,"c":"o"},{"p":"s","r":530,"v":262,"c":"p"},{"p":"s","r":535,"v":275,"c":"g"},{"p":"s","r":539,"v":287,"c":"p"},{"p":"s","r":542,"v":297,"c":"o"},{"p":"s","r":545,"v":308,"c":"o"},{"p":"s","r":547,"v":318,"c":"o"},{"p":"s","r":548,"v":358,"c":"g"},{"p":"s","r":549,"v":372,"c":"b"},{"p":"s","r":550,"v":386,"c":"g"},
{"p":"e","r":1,"v":0,"c":"g"},{"p":"e","r":3,"v":0,"c":"g"},{"p":"e","r":5,"v":0,"c":"g"},{"p":"e","r":7,"v":0,"c":"g"},{"p":"e","r":9,"v":0,"c":"g"},{"p":"e","r":11,"v":0,"c":"g"},{"p":"e","r":13,"v":0,"c":"g"},{"p":"e","r":15,"v":0,"c":"g"},
{"p":"e","r":17,"v":72,"c":"p"},{"p":"e","r":20,"v":76,"c":"o"},{"p":"e","r":25,"v":80,"c":"p"},{"p":"e","r":32,"v":84,"c":"o"},{"p":"e","r":42,"v":87,"c":"g"},{"p":"e","r":55,"v":90,"c":"o"},{"p":"e","r":70,"v":93,"c":"p"},{"p":"e","r":85,"v":96,"c":"o"},{"p":"e","r":100,"v":98,"c":"o"},{"p":"e","r":120,"v":102,"c":"g"},{"p":"e","r":140,"v":105,"c":"o"},{"p":"e","r":160,"v":107,"c":"o"},{"p":"e","r":180,"v":109,"c":"p"},{"p":"e","r":200,"v":112,"c":"o"},{"p":"e","r":220,"v":115,"c":"o"},{"p":"e","r":240,"v":117,"c":"g"},{"p":"e","r":260,"v":120,"c":"o"},{"p":"e","r":280,"v":124,"c":"o"},{"p":"e","r":300,"v":128,"c":"p"},{"p":"e","r":320,"v":132,"c":"o"},{"p":"e","r":340,"v":136,"c":"o"},{"p":"e","r":360,"v":140,"c":"g"},{"p":"e","r":380,"v":144,"c":"o"},{"p":"e","r":400,"v":150,"c":"p"},{"p":"e","r":420,"v":155,"c":"o"},{"p":"e","r":440,"v":161,"c":"o"},{"p":"e","r":455,"v":167,"c":"o"},{"p":"e","r":470,"v":173,"c":"o"},{"p":"e","r":485,"v":179,"c":"o"},{"p":"e","r":500,"v":186,"c":"o"},{"p":"e","r":512,"v":192,"c":"o"},{"p":"e","r":522,"v":198,"c":"g"},{"p":"e","r":530,"v":203,"c":"o"},{"p":"e","r":536,"v":207,"c":"b"},{"p":"e","r":541,"v":211,"c":"o"},{"p":"e","r":545,"v":215,"c":"o"},{"p":"e","r":548,"v":219,"c":"o"},{"p":"e","r":549,"v":252,"c":"g"},{"p":"e","r":550,"v":275,"c":"g"},
{"p":"f","r":1,"v":0,"c":"g"},{"p":"f","r":3,"v":1,"c":"g"},{"p":"f","r":5,"v":2,"c":"g"},{"p":"f","r":7,"v":4,"c":"g"},{"p":"f","r":9,"v":6,"c":"g"},{"p":"f","r":11,"v":7,"c":"g"},{"p":"f","r":13,"v":9,"c":"g"},{"p":"f","r":15,"v":10,"c":"g"},
{"p":"f","r":17,"v":56,"c":"o"},{"p":"f","r":19,"v":62,"c":"o"},{"p":"f","r":21,"v":67,"c":"p"},{"p":"f","r":24,"v":72,"c":"g"},{"p":"f","r":28,"v":76,"c":"p"},{"p":"f","r":34,"v":81,"c":"o"},{"p":"f","r":44,"v":85,"c":"g"},{"p":"f","r":60,"v":90,"c":"o"},{"p":"f","r":79,"v":94,"c":"o"},{"p":"f","r":100,"v":96,"c":"p"},{"p":"f","r":125,"v":98,"c":"o"},{"p":"f","r":151,"v":100,"c":"o"},{"p":"f","r":180,"v":102,"c":"g"},{"p":"f","r":210,"v":104,"c":"o"},{"p":"f","r":234,"v":106,"c":"p"},{"p":"f","r":260,"v":107,"c":"o"},{"p":"f","r":290,"v":108,"c":"o"},{"p":"f","r":317,"v":109,"c":"b"},{"p":"f","r":345,"v":110,"c":"o"},{"p":"f","r":376,"v":112,"c":"o"},{"p":"f","r":405,"v":115,"c":"g"},{"p":"f","r":435,"v":119,"c":"o"},{"p":"f","r":465,"v":123,"c":"o"},{"p":"f","r":495,"v":128,"c":"b"},{"p":"f","r":510,"v":131,"c":"o"},{"p":"f","r":524,"v":135,"c":"o"},{"p":"f","r":530,"v":139,"c":"g"},{"p":"f","r":536,"v":144,"c":"o"},{"p":"f","r":540,"v":149,"c":"g"},{"p":"f","r":544,"v":155,"c":"g"},{"p":"f","r":547,"v":158,"c":"o"},{"p":"f","r":548,"v":160,"c":"g"},{"p":"f","r":550,"v":200,"c":"g"},
{"p":"u","r":1,"v":0,"c":"g"},{"p":"u","r":3,"v":0,"c":"g"},{"p":"u","r":5,"v":1,"c":"g"},{"p":"u","r":7,"v":2,"c":"g"},{"p":"u","r":9,"v":3,"c":"g"},{"p":"u","r":11,"v":5,"c":"g"},{"p":"u","r":13,"v":7,"c":"g"},{"p":"u","r":15,"v":9,"c":"g"},{"p":"u","r":17,"v":11,"c":"g"},{"p":"u","r":19,"v":13,"c":"g"},{"p":"u","r":21,"v":14,"c":"g"},{"p":"u","r":23,"v":16,"c":"g"},{"p":"u","r":25,"v":17,"c":"g"},{"p":"u","r":27,"v":18,"c":"g"},{"p":"u","r":29,"v":19,"c":"g"},
{"p":"u","r":31,"v":51,"c":"o"},{"p":"u","r":33,"v":55,"c":"b"},{"p":"u","r":37,"v":61,"c":"o"},{"p":"u","r":46,"v":68,"c":"o"},{"p":"u","r":60,"v":72,"c":"p"},{"p":"u","r":76,"v":74,"c":"o"},{"p":"u","r":100,"v":77,"c":"o"},{"p":"u","r":123,"v":80,"c":"g"},{"p":"u","r":150,"v":83,"c":"o"},{"p":"u","r":183,"v":86,"c":"o"},{"p":"u","r":210,"v":89,"c":"p"},{"p":"u","r":242,"v":92,"c":"o"},{"p":"u","r":270,"v":94,"c":"o"},{"p":"u","r":301,"v":96,"c":"g"},{"p":"u","r":330,"v":98,"c":"o"},{"p":"u","r":361,"v":100,"c":"o"},{"p":"u","r":390,"v":103,"c":"p"},{"p":"u","r":420,"v":106,"c":"o"},{"p":"u","r":445,"v":110,"c":"o"},{"p":"u","r":467,"v":114,"c":"g"},{"p":"u","r":485,"v":117,"c":"o"},{"p":"u","r":503,"v":120,"c":"o"},{"p":"u","r":515,"v":122,"c":"g"},{"p":"u","r":527,"v":125,"c":"o"},{"p":"u","r":534,"v":128,"c":"g"},{"p":"u","r":538,"v":131,"c":"g"},{"p":"u","r":541,"v":136,"c":"o"},{"p":"u","r":544,"v":141,"c":"g"},{"p":"u","r":546,"v":147,"c":"o"},{"p":"u","r":548,"v":157,"c":"o"},{"p":"u","r":549,"v":153,"c":"g"},{"p":"u","r":550,"v":162,"c":"g"}]
},
"vconcat":[
{"width":1160,"height":392,
"title":{"text":"a","anchor":"start","frame":"bounds","fontWeight":"bold","fontSize":17,"offset":-10,"dx":-9},
"layer":[
{"data":{"values":[{"r":1},{"r":2},{"r":3}]},"mark":{"type":"rule","color":"#cfcfcf","strokeWidth":1.5},
"encoding":{"y":{"field":"r","type":"quantitative","scale":{"domain":[0.7975,3.2025],"nice":false,"zero":false},
"axis":{"values":[1,2,3],"title":"Split WGS reads mapped to ref-N2","titlePadding":7,"labelExpr":"datum.value == 2 ? ['Primary','alignment'] : ['Chimeric','alignment']","labelAngle":-90,"labelAlign":"center","labelBaseline":"bottom","labelPadding":23,"labelLineHeight":18,"labelOverlap":false,"labelBound":false,"tickSize":6}}}},
{"data":{"name":"genes"},"mark":{"type":"rule","strokeWidth":12},
"encoding":{"x":{"field":"s","type":"quantitative","scale":{"domain":[4451.338,4469.239],"nice":false,"zero":false},"axis":{"labels":false,"ticks":false,"title":"Genomic regions on chromosome I","titlePadding":12}},"x2":{"field":"e"},"y":{"datum":3},
"color":{"field":"c","type":"nominal","scale":{"domain":["e7","e6","g","b","o","p","n","k","r","pk"],"range":["#87CEFA","#FF00FF","#008B45","#0000FF","#FFA500","#A020F0","#000080","#000000","#FF0000","#F4A6B0"]},"legend":null}}},
{"data":{"name":"genes"},"mark":{"type":"rule","strokeWidth":12},
"encoding":{"x":{"field":"s","type":"quantitative"},"x2":{"field":"e"},"y":{"datum":2},
"color":{"field":"c","type":"nominal","scale":{"domain":["e7","e6","g","b","o","p","n","k","r","pk"],"range":["#87CEFA","#FF00FF","#008B45","#0000FF","#FFA500","#A020F0","#000080","#000000","#FF0000","#F4A6B0"]},"legend":null}}},
{"data":{"values":[{"s":4451.785,"e":4452.46,"c":"n"},{"s":4452.742,"e":4468.1,"c":"r"},{"s":4468.36,"e":4468.961,"c":"n"}]},"mark":{"type":"rule","strokeWidth":6},
"encoding":{"x":{"field":"s","type":"quantitative"},"x2":{"field":"e"},"y":{"datum":1},
"color":{"field":"c","type":"nominal","scale":{"domain":["e7","e6","g","b","o","p","n","k","r","pk"],"range":["#87CEFA","#FF00FF","#008B45","#0000FF","#FFA500","#A020F0","#000080","#000000","#FF0000","#F4A6B0"]},"legend":null}}},
{"data":{"values":[{"x":4452.5,"c":"n"},{"x":4468.15,"c":"r"}]},"mark":{"type":"point","shape":"triangle-right","filled":true,"size":120,"opacity":1},
"encoding":{"x":{"field":"x","type":"quantitative"},"y":{"datum":1},
"color":{"field":"c","type":"nominal","scale":{"domain":["e7","e6","g","b","o","p","n","k","r","pk"],"range":["#87CEFA","#FF00FF","#008B45","#0000FF","#FFA500","#A020F0","#000080","#000000","#FF0000","#F4A6B0"]},"legend":null}}},
{"data":{"values":[{"x":4468.31}]},"mark":{"type":"point","shape":"triangle-left","filled":true,"size":120,"opacity":1,"color":"#000080"},
"encoding":{"x":{"field":"x","type":"quantitative"},"y":{"datum":1}}},
{"data":{"values":[{"s":4456.338,"e":4457.03},{"s":4459.193,"e":4459.87}]},"mark":{"type":"rule","strokeWidth":2.5,"color":"#000080"},
"encoding":{"x":{"field":"s","type":"quantitative"},"x2":{"field":"e"},"y":{"datum":2}}},
{"data":{"values":[{"x":4457.05},{"x":4459.89}]},"mark":{"type":"point","shape":"triangle-right","filled":true,"size":40,"opacity":1,"color":"#000080"},
"encoding":{"x":{"field":"x","type":"quantitative"},"y":{"datum":2}}},
{"data":{"values":[{"s":4463.051,"e":4467.26}]},"mark":{"type":"rule","strokeWidth":2,"color":"#F4A6B0"},
"encoding":{"x":{"field":"s","type":"quantitative"},"x2":{"field":"e"},"y":{"datum":0.957}}},
{"data":{"values":[{"x":4467.29}]},"mark":{"type":"point","shape":"triangle-right","filled":true,"size":30,"opacity":1,"color":"#F4A6B0"},
"encoding":{"x":{"field":"x","type":"quantitative"},"y":{"datum":0.957}}},
{"data":{"values":[{"x":4457.927,"y":1.97,"x2":4468.035,"y2":1.03,"c":"b"},{"x":4459.085,"y":1.975,"x2":4467.912,"y2":1.04,"c":"p"},{"x":4459.131,"y":1.975,"x2":4468.004,"y2":1.035,"c":"p"},{"x":4459.177,"y":1.975,"x2":4468.128,"y2":1.025,"c":"b"},{"x":4461.091,"y":1.985,"x2":4468.112,"y2":1.025,"c":"p"},{"x":4462.511,"y":1.985,"x2":4468.159,"y2":1.02,"c":"p"},{"x":4462.6,"y":1.985,"x2":4468.18,"y2":1.02,"c":"p"}]},
"mark":{"type":"rule","strokeWidth":1.2,"opacity":0.8},
"encoding":{"x":{"field":"x","type":"quantitative"},"y":{"field":"y","type":"quantitative"},"x2":{"field":"x2"},"y2":{"field":"y2"},
"color":{"field":"c","type":"nominal","scale":{"domain":["e7","e6","g","b","o","p","n","k","r","pk"],"range":["#87CEFA","#FF00FF","#008B45","#0000FF","#FFA500","#A020F0","#000080","#000000","#FF0000","#F4A6B0"]},"legend":null}}},
{"data":{"values":[{"x":4456.153,"y":2.97,"x2":4458.977,"y2":2.05,"c":"g"},{"x":4458.977,"y":2.97,"x2":4456.153,"y2":2.05,"c":"g"},{"x":4459.965,"y":2.97,"x2":4460.382,"y2":2.03,"c":"p"},{"x":4459.965,"y":2.97,"x2":4461.168,"y2":2.03,"c":"p"},{"x":4460.382,"y":2.97,"x2":4459.965,"y2":2.03,"c":"p"},{"x":4461.168,"y":2.97,"x2":4459.965,"y2":2.03,"c":"p"},{"x":4462.449,"y":1.985,"x2":4468.22,"y2":1.012,"c":"o"}]},
"mark":{"type":"rule","strokeWidth":2.5},
"encoding":{"x":{"field":"x","type":"quantitative"},"y":{"field":"y","type":"quantitative"},"x2":{"field":"x2"},"y2":{"field":"y2"},
"color":{"field":"c","type":"nominal","scale":{"domain":["e7","e6","g","b","o","p","n","k","r","pk"],"range":["#87CEFA","#FF00FF","#008B45","#0000FF","#FFA500","#A020F0","#000080","#000000","#FF0000","#F4A6B0"]},"legend":null}}},
{"data":{"values":[{"x":4458.02,"y":3.098,"t":"ERI-6 exons","c":"k"},{"x":4456.06,"y":2.38,"t":"93 strains","c":"g"},{"x":4462.033,"y":2.38,"t":"13 + 21 strains","c":"p"},{"x":4459.532,"y":2.092,"t":"DR","c":"n"},{"x":4456.569,"y":1.81,"t":"Direct Repeat (DR)","c":"n"},{"x":4460.165,"y":1.62,"t":"CB4856-like","c":"k"},{"x":4460.196,"y":1.515,"t":"1 strains","c":"b"},{"x":4462.573,"y":1.282,"t":"39 strains","c":"p"},{"x":4466.878,"y":1.515,"t":"8 strains","c":"o"},{"x":4452.079,"y":0.902,"t":"TIR","c":"k"},{"x":4465.026,"y":0.902,"t":"pPolB1","c":"k"},{"x":4468.56,"y":0.902,"t":"TIR","c":"k"}]},
"mark":{"type":"text","fontSize":16,"align":"center","baseline":"middle"},
"encoding":{"x":{"field":"x","type":"quantitative"},"y":{"field":"y","type":"quantitative"},"text":{"field":"t"},
"color":{"field":"c","type":"nominal","scale":{"domain":["e7","e6","g","b","o","p","n","k","r","pk"],"range":["#87CEFA","#FF00FF","#008B45","#0000FF","#FFA500","#A020F0","#000080","#000000","#FF0000","#F4A6B0"]},"legend":null}}},
{"data":{"values":[{"x":4453.467,"y":3.098,"t":"eri-7"},{"x":4461.415,"y":3.098,"t":"sosi-1"},{"x":4464.532,"y":3.098,"t":"eri-6[e]"},{"x":4466.338,"y":3.098,"t":"eri-6[f]"},{"x":4461.523,"y":2.497,"t":"INVsosi-1"},{"x":4460.088,"y":0.902,"t":"Polinton-1_CB"}]},
"mark":{"type":"text","fontSize":16,"align":"center","baseline":"middle","fontStyle":"italic","color":"#000"},
"encoding":{"x":{"field":"x","type":"quantitative"},"y":{"field":"y","type":"quantitative"},"text":{"field":"t"}}},
{"data":{"values":[{"x":4451.539,"y":2.847,"t":"Inversions to"},{"x":4451.539,"y":2.718,"t":"the reference"},{"x":4451.539,"y":1.89,"t":"Insertions to"},{"x":4451.539,"y":1.761,"t":"the reference"}]},
"mark":{"type":"text","fontSize":16,"align":"left","baseline":"middle","color":"#000"},
"encoding":{"x":{"field":"x","type":"quantitative"},"y":{"field":"y","type":"quantitative"},"text":{"field":"t"}}},
{"data":{"values":[{"x":4456.106,"y":2.497,"t":"Single"},{"x":4462.418,"y":1.387,"t":"INV"},{"x":4467.465,"y":1.62,"t":"Reverse-oriented"}]},
"mark":{"type":"text","fontSize":16,"align":"right","baseline":"middle","color":"#000"},
"encoding":{"x":{"field":"x","type":"quantitative"},"y":{"field":"y","type":"quantitative"},"text":{"field":"t"}}},
{"data":{"values":[{"x":4456.184,"y":2.497,"t":"eri-6-7"},{"x":4462.434,"y":1.387,"t":"sosi-1"},{"x":4467.527,"y":1.62,"t":"eri-6,7"}]},
"mark":{"type":"text","fontSize":16,"align":"left","baseline":"middle","fontStyle":"italic","color":"#000"},
"encoding":{"x":{"field":"x","type":"quantitative"},"y":{"field":"y","type":"quantitative"},"text":{"field":"t"}}}
]},
{"width":1160,"height":371,
"title":{"text":"b","anchor":"start","frame":"bounds","fontWeight":"bold","fontSize":17,"offset":-12,"dx":-9},
"layer":[
{"data":{"name":"cov"},"mark":{"type":"area","color":"#FFA500","opacity":0.45},
"encoding":{"x":{"field":"x","type":"quantitative","scale":{"domain":[4451.338,4469.239],"nice":false,"zero":false},"axis":{"values":[4455,4460,4465],"labelExpr":"format(datum.value/1000,'.3f')","title":"Genomic position (Mb) on chromosome I","titlePadding":6}},
"y":{"field":"lo","type":"quantitative","scale":{"domain":[-79.8,512.3],"nice":false,"zero":false},"axis":{"values":[0,100,200,300,400,500],"title":"Relative coverage","titlePadding":14,"labelPadding":7}},
"y2":{"field":"hi"}}},
{"data":{"name":"gband"},"mark":{"type":"area","color":"#008B45","opacity":0.45},
"encoding":{"x":{"field":"x","type":"quantitative"},"y":{"field":"lo","type":"quantitative"},"y2":{"field":"hi"},"detail":{"field":"s"}}},
{"data":{"name":"cov"},"mark":{"type":"line","color":"#6B2BD6","opacity":0.4,"strokeWidth":14,"strokeJoin":"round"},
"encoding":{"x":{"field":"x","type":"quantitative"},"y":{"field":"M","type":"quantitative"}}},
{"data":{"name":"cov"},"transform":[{"fold":["ga","gb","gc","gd","oa","ob","oc","pa","pb","qa","qb"],"as":["key","val"]},{"lookup":"key","from":{"data":{"name":"series"},"key":"key","fields":["grp"]}}],
"mark":{"type":"line","strokeWidth":1,"opacity":0.75},
"encoding":{"x":{"field":"x","type":"quantitative"},"y":{"field":"val","type":"quantitative"},"detail":{"field":"key"},
"color":{"field":"grp","type":"nominal","scale":{"domain":["e7","e6","g","b","o","p","n","k","r","pk"],"range":["#87CEFA","#FF00FF","#008B45","#0000FF","#FFA500","#A020F0","#000080","#000000","#FF0000","#F4A6B0"]},"legend":null}}},
{"data":{"name":"genes"},"mark":{"type":"rule","strokeWidth":16},
"encoding":{"x":{"field":"s","type":"quantitative"},"x2":{"field":"e"},"y":{"datum":-20.7},
"color":{"field":"c","type":"nominal","scale":{"domain":["e7","e6","g","b","o","p","n","k","r","pk"],"range":["#87CEFA","#FF00FF","#008B45","#0000FF","#FFA500","#A020F0","#000080","#000000","#FF0000","#F4A6B0"]},"legend":null}}},
{"data":{"values":[{"s":4456.369,"e":4457.094},{"s":4459.208,"e":4459.918},{"s":4460.165,"e":4462.711},{"s":4464.162,"e":4464.98},{"s":4466.214,"e":4466.647},{"s":4466.647,"e":4466.909}]},
"mark":{"type":"rule","strokeWidth":2.5,"color":"#000"},
"encoding":{"x":{"field":"s","type":"quantitative"},"x2":{"field":"e"},"y":{"datum":-35}}},
{"data":{"values":[{"x":4456.739,"y":-52.7,"t":"DR-L"},{"x":4458.051,"y":-52.7,"t":"ERI-6 exons"},{"x":4459.564,"y":-52.7,"t":"DR-R"},{"x":4467.032,"y":-52.7,"t":"3'UTR"}]},
"mark":{"type":"text","fontSize":16,"align":"center","baseline":"middle","color":"#000"},
"encoding":{"x":{"field":"x","type":"quantitative"},"y":{"field":"y","type":"quantitative"},"text":{"field":"t"}}},
{"data":{"values":[{"x":4453.498,"y":-52.7,"t":"eri-7"},{"x":4461.432,"y":-52.7,"t":"sosi-1"},{"x":4464.548,"y":-52.7,"t":"eri-6[e]"},{"x":4466.137,"y":-52.7,"t":"eri-6[f]"}]},
"mark":{"type":"text","fontSize":16,"align":"center","baseline":"middle","fontStyle":"italic","color":"#000"},
"encoding":{"x":{"field":"x","type":"quantitative"},"y":{"field":"y","type":"quantitative"},"text":{"field":"t"}}},
{"data":{"values":[{"s":4451.4,"e":4451.863,"y":485,"c":"g"},{"s":4451.739,"e":4452.156,"y":448,"c":"b"},{"s":4451.4,"e":4451.863,"y":405,"c":"o"},{"s":4451.739,"e":4452.156,"y":370,"c":"p"}]},
"mark":{"type":"rule","strokeWidth":2.5},
"encoding":{"x":{"field":"s","type":"quantitative"},"x2":{"field":"e"},"y":{"field":"y","type":"quantitative"},
"color":{"field":"c","type":"nominal","scale":{"domain":["e7","e6","g","b","o","p","n","k","r","pk"],"range":["#87CEFA","#FF00FF","#008B45","#0000FF","#FFA500","#A020F0","#000080","#000000","#FF0000","#F4A6B0"]},"legend":null}}},
{"data":{"values":[{"x":4451.893,"y":485,"t":"Single"},{"x":4452.187,"y":448,"t":"CB4856-like"},{"x":4451.893,"y":405,"t":"Reverse-oriented"},{"x":4452.248,"y":370,"t":"INV"}]},
"mark":{"type":"text","fontSize":16,"align":"left","baseline":"middle","color":"#000"},
"encoding":{"x":{"field":"x","type":"quantitative"},"y":{"field":"y","type":"quantitative"},"text":{"field":"t"}}},
{"data":{"values":[{"x":4452.66,"y":485,"t":"eri-6-7"},{"x":4453.84,"y":405,"t":"eri-6,7"},{"x":4452.665,"y":370,"t":"sosi-1"}]},
"mark":{"type":"text","fontSize":16,"align":"left","baseline":"middle","fontStyle":"italic","color":"#000"},
"encoding":{"x":{"field":"x","type":"quantitative"},"y":{"field":"y","type":"quantitative"},"text":{"field":"t"}}}
]},
{"spacing":11,"hconcat":[
{"width":238,"height":202,
"title":{"text":"c","anchor":"start","frame":"bounds","fontWeight":"bold","fontSize":17,"offset":28,"dx":-8},
"data":{"name":"scat"},"mark":{"type":"circle","size":55,"opacity":1},
"encoding":{"x":{"field":"x","type":"quantitative","scale":{"domain":[-6.1,201.4],"nice":false,"zero":false},"axis":{"values":[0,50,100,150,200],"title":"Mean coverage in DR-L","titlePadding":6,"labelPadding":7}},
"y":{"field":"y","type":"quantitative","scale":{"domain":[-9.4,228],"nice":false,"zero":false},"axis":{"values":[0,50,100,150,200],"title":"Mean coverage in DR-R","titlePadding":12,"labelPadding":9}},
"color":{"field":"c","type":"nominal","scale":{"domain":["g","b","o","p"],"range":["#008B45","#0000FF","#FFA500","#A020F0"]},"legend":null}}},
{"title":{"text":"550 strains","orient":"bottom","anchor":"middle","offset":8},
"vconcat":[{"spacing":20,
"title":{"text":"d","anchor":"start","frame":"bounds","fontWeight":"bold","fontSize":17,"offset":2},
"hconcat":[
{"width":169,"height":202,"title":{"text":"sosi-1","fontStyle":"italic","offset":6},
"layer":[
{"data":{"values":[{"x1":-20,"x2":62,"y1":-15,"y2":61}]},"mark":{"type":"rect","filled":false,"color":"#c8c8c8","strokeDash":[4,3],"strokeWidth":1},
"encoding":{"x":{"field":"x1","type":"quantitative","scale":{"domain":[-25,575],"nice":false,"zero":false},"axis":null},"x2":{"field":"x2"},
"y":{"field":"y1","type":"quantitative","scale":{"domain":[-17,402],"nice":false,"zero":false},"axis":{"values":[0,100,200,300,400],"title":"Mean coverage in each region","titlePadding":8}},"y2":{"field":"y2"}}},
{"data":{"name":"sorted"},"transform":[{"filter":"datum.p == 's'"}],"mark":{"type":"circle","size":75,"opacity":1},
"encoding":{"x":{"field":"r","type":"quantitative"},"y":{"field":"v","type":"quantitative"},"color":{"field":"c","type":"nominal","scale":{"domain":["g","b","o","p"],"range":["#008B45","#0000FF","#FFA500","#A020F0"]},"legend":null}}},
{"data":{"values":[{"x":78,"y":0,"t":"11 strains"}]},"mark":{"type":"text","align":"left","baseline":"middle","fontSize":17,"color":"#8c8c8c"},
"encoding":{"x":{"field":"x","type":"quantitative"},"y":{"field":"y","type":"quantitative"},"text":{"field":"t"}}}
]},
{"width":168,"height":202,"title":{"text":"eri-6[e]","fontStyle":"italic","offset":6},
"layer":[
{"data":{"values":[{"x1":-20,"x2":62,"y1":-10.7,"y2":43}]},"mark":{"type":"rect","filled":false,"color":"#c8c8c8","strokeDash":[4,3],"strokeWidth":1},
"encoding":{"x":{"field":"x1","type":"quantitative","scale":{"domain":[-25,575],"nice":false,"zero":false},"axis":null},"x2":{"field":"x2"},
"y":{"field":"y1","type":"quantitative","scale":{"domain":[-12,285],"nice":false,"zero":false},"axis":{"values":[0,100,200],"title":null}},"y2":{"field":"y2"}}},
{"data":{"name":"sorted"},"transform":[{"filter":"datum.p == 'e'"}],"mark":{"type":"circle","size":75,"opacity":1},
"encoding":{"x":{"field":"r","type":"quantitative"},"y":{"field":"v","type":"quantitative"},"color":{"field":"c","type":"nominal","scale":{"domain":["g","b","o","p"],"range":["#008B45","#0000FF","#FFA500","#A020F0"]},"legend":null}}},
{"data":{"values":[{"x":78,"y":0,"t":"16 strains"}]},"mark":{"type":"text","align":"left","baseline":"middle","fontSize":17,"color":"#8c8c8c"},
"encoding":{"x":{"field":"x","type":"quantitative"},"y":{"field":"y","type":"quantitative"},"text":{"field":"t"}}},
{"data":{"values":[{"x":512,"y":268,"t":"JU1896"}]},"mark":{"type":"text","align":"right","baseline":"middle","fontSize":17,"color":"#8c8c8c"},
"encoding":{"x":{"field":"x","type":"quantitative"},"y":{"field":"y","type":"quantitative"},"text":{"field":"t"}}}
]},
{"width":168,"height":202,"title":{"text":"eri-6[f]","fontStyle":"italic","offset":6},
"layer":[
{"data":{"values":[{"x1":-20,"x2":62,"y1":-8,"y2":32}]},"mark":{"type":"rect","filled":false,"color":"#c8c8c8","strokeDash":[4,3],"strokeWidth":1},
"encoding":{"x":{"field":"x1","type":"quantitative","scale":{"domain":[-25,575],"nice":false,"zero":false},"axis":null},"x2":{"field":"x2"},
"y":{"field":"y1","type":"quantitative","scale":{"domain":[-8.7,211],"nice":false,"zero":false},"axis":{"values":[0,50,100,150,200],"title":null}},"y2":{"field":"y2"}}},
{"data":{"name":"sorted"},"transform":[{"filter":"datum.p == 'f'"}],"mark":{"type":"circle","size":75,"opacity":1},
"encoding":{"x":{"field":"r","type":"quantitative"},"y":{"field":"v","type":"quantitative"},"color":{"field":"c","type":"nominal","scale":{"domain":["g","b","o","p"],"range":["#008B45","#0000FF","#FFA500","#A020F0"]},"legend":null}}},
{"data":{"values":[{"x":78,"y":0,"t":"16 strains"}]},"mark":{"type":"text","align":"left","baseline":"middle","fontSize":17,"color":"#8c8c8c"},
"encoding":{"x":{"field":"x","type":"quantitative"},"y":{"field":"y","type":"quantitative"},"text":{"field":"t"}}},
{"data":{"values":[{"x":521,"y":197,"t":"JU1896"}]},"mark":{"type":"text","align":"right","baseline":"middle","fontSize":17,"color":"#8c8c8c"},
"encoding":{"x":{"field":"x","type":"quantitative"},"y":{"field":"y","type":"quantitative"},"text":{"field":"t"}}}
]},
{"width":164,"height":202,"title":{"text":"eri-6[f] 3'UTR","fontStyle":"italic","offset":6},
"layer":[
{"data":{"values":[{"x1":-20,"x2":62,"y1":-6.4,"y2":26}]},"mark":{"type":"rect","filled":false,"color":"#c8c8c8","strokeDash":[4,3],"strokeWidth":1},
"encoding":{"x":{"field":"x1","type":"quantitative","scale":{"domain":[-25,575],"nice":false,"zero":false},"axis":null},"x2":{"field":"x2"},
"y":{"field":"y1","type":"quantitative","scale":{"domain":[-7,169],"nice":false,"zero":false},"axis":{"values":[0,50,100,150],"title":null}},"y2":{"field":"y2"}}},
{"data":{"name":"sorted"},"transform":[{"filter":"datum.p == 'u'"}],"mark":{"type":"circle","size":75,"opacity":1},
"encoding":{"x":{"field":"r","type":"quantitative"},"y":{"field":"v","type":"quantitative"},"color":{"field":"c","type":"nominal","scale":{"domain":["g","b","o","p"],"range":["#008B45","#0000FF","#FFA500","#A020F0"]},"legend":null}}},
{"data":{"values":[{"x":78,"y":0,"t":"29 strains"}]},"mark":{"type":"text","align":"left","baseline":"middle","fontSize":17,"color":"#8c8c8c"},
"encoding":{"x":{"field":"x","type":"quantitative"},"y":{"field":"y","type":"quantitative"},"text":{"field":"t"}}}
]}
]}]}
]}
]
}
